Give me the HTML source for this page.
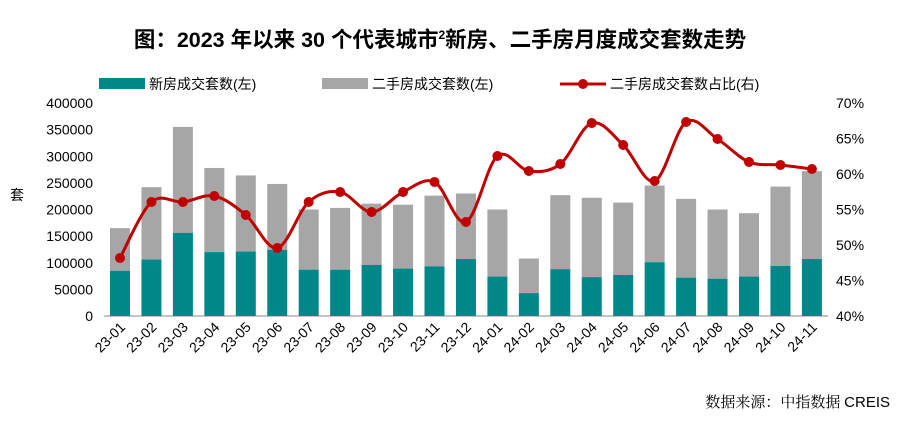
<!DOCTYPE html>
<html><head><meta charset="utf-8"><style>
html,body{margin:0;padding:0;background:#fff;}
svg{display:block;font-family:"Liberation Sans","Noto Sans CJK SC",sans-serif;}
</style></head><body>
<svg id="c" width="901" height="424" xmlns="http://www.w3.org/2000/svg">
<text x="440" y="47" text-anchor="middle" font-size="21.5" font-weight="bold" font-family="'Liberation Sans','Noto Sans CJK SC',sans-serif" fill="#000">图：2023 年以来 30 个代表城市<tspan font-size="12" dy="-8">2</tspan><tspan dy="8">新房、二手房月度成交套数走势</tspan></text>
<rect x="99" y="78" width="46" height="11" fill="#00878a"/>
<text x="149" y="89" font-size="14" fill="#000">新房成交套数(左)</text>
<rect x="322" y="78" width="46" height="11" fill="#a6a6a6"/>
<text x="372" y="89" font-size="14" fill="#000">二手房成交套数(左)</text>
<line x1="560" y1="84" x2="606" y2="84" stroke="#c00000" stroke-width="3"/>
<circle cx="583" cy="84" r="5" fill="#c00000"/>
<text x="610" y="89" font-size="14" fill="#000">二手房成交套数占比(右)</text>
<text x="10" y="200" font-size="14" fill="#000">套</text>
<text x="890" y="407" text-anchor="end" font-size="15" fill="#000" font-family="'Liberation Serif','Noto Serif CJK SC',serif">数据来源：中指数据 <tspan font-family="'Liberation Sans',sans-serif">CREIS</tspan></text>
<g id="g"></g>
</svg>
<script>
var tot=[165000,242000,355000,278000,264000,248000,200000,203000,211000,209000,226000,230000,200000,108000,227000,222000,213000,245000,220000,200000,193000,243000,272000];
var nw=[85000,106000,156000,120000,121000,124000,87000,87000,96000,89000,93000,107000,74000,43000,88000,73000,77000,101000,72000,70000,74000,94000,107000];
var ly=[258,202,202,196,215,248,202,192,212,192,182,222,156,171,164,123,145,181,122,139,162,165,169];
var lab=[];for(var y=23;y<=24;y++)for(var m=1;m<=12;m++){if(y==24&&m==12)break;lab.push(y+"-"+(m<10?"0"+m:m));}
var y0=316,y1=103,x0=104,x1=828,sp=31.45,xs=120;
function Y(v){return y0-(v/400000)*(y0-y1);}
var s="";
s+='<line x1="'+x0+'" y1="'+y0+'" x2="'+x1+'" y2="'+y0+'" stroke="#888" stroke-width="1"/>';
for(var i=0;i<=8;i++){var v=i*50000,yy=Y(v);s+='<text x="93" y="'+(yy+5)+'" text-anchor="end" font-size="14">'+v+'</text>';}
for(var i=0;i<=6;i++){var yy=y0-i*(y0-y1)/6;s+='<text x="836" y="'+(yy+5)+'" font-size="14">'+(40+i*5)+'%</text>';}
for(var i=0;i<tot.length;i++){var cx=xs+i*sp,w=20;
s+='<rect x="'+(cx-w/2)+'" y="'+Y(tot[i])+'" width="'+w+'" height="'+(Y(nw[i])-Y(tot[i]))+'" fill="#a6a6a6"/>';
s+='<rect x="'+(cx-w/2)+'" y="'+Y(nw[i])+'" width="'+w+'" height="'+(y0-Y(nw[i]))+'" fill="#00878a"/>';
s+='<text transform="translate('+(cx+6)+','+(y0+12)+') rotate(-45)" text-anchor="end" font-size="14">'+lab[i]+'</text>';}
var P=ly.map(function(v,i){return [xs+i*sp,v];});
var d="M"+P[0][0]+","+P[0][1];
for(var i=0;i<P.length-1;i++){var p0=P[i>0?i-1:0],p1=P[i],p2=P[i+1],p3=P[i+2<P.length?i+2:i+1],t=6;
d+=" C"+(p1[0]+(p2[0]-p0[0])/t)+","+(p1[1]+(p2[1]-p0[1])/t)+" "+(p2[0]-(p3[0]-p1[0])/t)+","+(p2[1]-(p3[1]-p1[1])/t)+" "+p2[0]+","+p2[1];}
s+='<path d="'+d+'" fill="none" stroke="#c00000" stroke-width="3"/>';
P.forEach(function(p){s+='<circle cx="'+p[0]+'" cy="'+p[1]+'" r="5" fill="#c00000"/>';});
document.getElementById("g").innerHTML=s;
</script>
</body></html>
